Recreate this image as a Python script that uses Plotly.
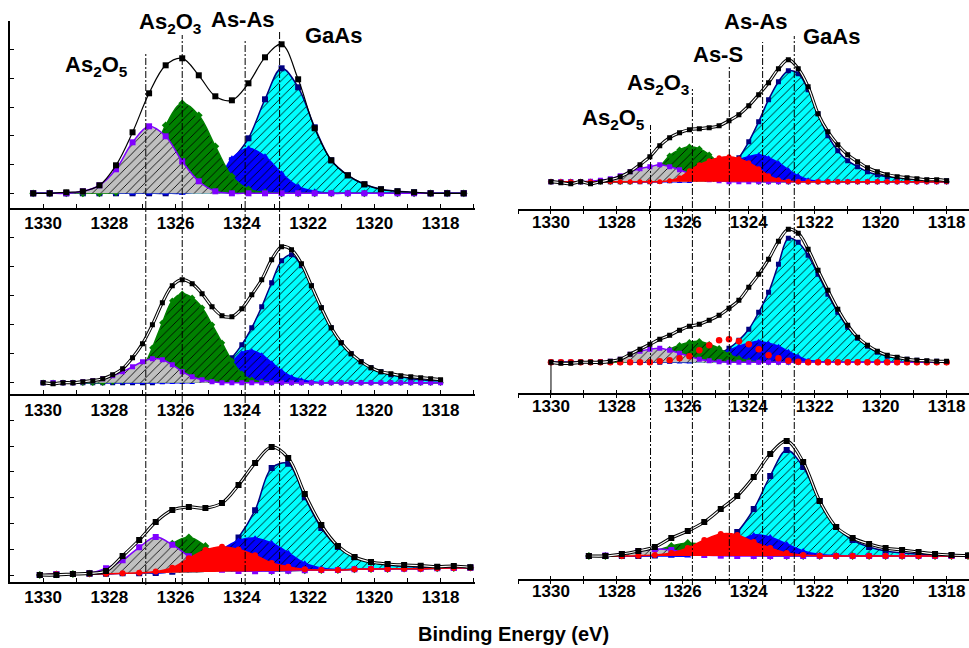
import numpy as np
import plotly.graph_objects as go

W, H = 969, 648
FONT = "Liberation Sans, Arial, Helvetica, sans-serif"

# ---------------- energy grids (binding energy, eV) ----------------
tl_energy = np.round(1330.3 - 0.5 * np.arange(27), 2)
ml_energy = np.round(1330.0 - 0.3 * np.arange(41), 2)
bl_energy = np.round(1330.1 - 0.5 * np.arange(27), 2)
tr_energy = np.round(1330.0 - 0.3 * np.arange(41), 2)
mr_energy = np.round(1330.0 - 0.3 * np.arange(41), 2)
br_energy = np.round(1328.85 - 0.5 * np.arange(24), 2)

# ---------------- intensities (a.u.) ----------------
# top-left
tl_env = [0, 0, 1, 2, 8, 28, 61, 100, 128, 135, 118, 97, 93, 110, 136, 149, 114, 65, 33, 18, 9, 4, 2, 1, 0, 0, 0]
tl_as2o5 = [0, 0, 0, 2, 8, 24, 51, 67, 57, 32, 12, 2] + [0] * 15
tl_as2o3 = [0, 0, 0, 0, 0, 1, 8, 30, 68, 90, 78, 47, 17, 4, 1] + [0] * 12
tl_asas = [0] * 10 + [2, 8, 35, 45, 37, 20, 7, 2] + [0] * 9
tl_gaas = [0] * 9 + [2, 4, 12, 33, 55, 94, 125, 106, 66, 33, 18, 9, 4, 2, 1, 0, 0, 0]

# middle-left
ml_env = [0, -1, 0, 0, 1, 2, 4, 8, 14, 25, 39, 58, 80, 97, 103, 99, 89, 76, 67, 66,
          74, 88, 103, 123, 136, 133, 119, 97, 75, 55, 40, 29, 21, 15, 11, 9, 7, 6, 5, 4, 3]
ml_as2o5 = [0, 0, 0, 0, 1, 2, 4, 7, 11, 16, 21, 24, 23, 18, 11, 6, 3, 1] + [0] * 23
ml_as2o3 = [0, 0, 0, 0, 0, 0, 0, 1, 2, 5, 14, 35, 60, 82, 89, 85, 75, 58, 40, 22, 9, 3, 1] + [0] * 18
ml_asas = [0] * 16 + [2, 4, 8, 20, 30, 32, 28, 20, 12, 6, 3, 1] + [0] * 13
ml_gaas = [0] * 12 + [1, 2, 3, 5, 7, 11, 16, 25, 38, 55, 76, 100, 122, 128, 117, 97, 75, 55, 40,
                      29, 21, 15, 11, 8, 6, 4, 3, 2, 2]

# bottom-left (sloping background)
bl_bg = [0, 0.7, 1, 1.3, 1.3, 1.7, 1.7, 2, 2.3, 2.7, 3, 3.3, 3.5, 3.8, 4, 4.3, 4.7, 5, 5, 5.7,
         6, 6, 6.3, 6.3, 6.7, 7, 7.3]
bl_env = [0, 0, 1, 1.7, 4, 19, 35, 53, 65, 68, 67, 72, 90, 112, 128, 117, 81, 50, 29, 18,
          13, 11, 10, 9.3, 8.3, 9, 7.7]
bl_as2o5 = [0, 0, 0, 0.5, 5.5, 13, 26, 36, 28, 16, 6, 2, 0.5] + [0] * 14
bl_as2o3 = [0, 0, 0, 0, 0.5, 2, 6, 15, 29, 35, 26, 12, 4, 1] + [0] * 13
bl_ass = [0, 0, 0, 0, 0, 0, 0.5, 1.5, 5, 14, 22, 25, 22, 16, 8, 4, 1] + [0] * 10
bl_asas = [0, 0, 0, 0, 0, 0, 0, 0, 1, 3, 8, 22, 31, 33, 28, 18, 7, 2, 0.5] + [0] * 8
bl_gaas = [0, 0, 0, 0, 0, 0, 0, 0, 1, 3, 7, 15, 34, 61, 103, 107, 73, 42, 23, 12, 7, 4, 2.5, 1.5, 1, 0.5, 0.3]

# top-right
tr_env = [0, -1, -2, 0, -2, 0, 2, 5, 10, 17, 25, 36, 44, 49, 52, 53, 54, 56, 61, 67,
          76, 87, 99, 113, 122, 113, 95, 68, 50, 37, 27, 20, 14, 10, 7, 5, 4, 3, 2, 2, 1]
tr_as2o5 = [0, 0, 0, 0, 0.5, 1.5, 3, 6, 10, 13, 15, 17, 15, 12, 8, 4, 2, 1] + [0] * 23
tr_as2o3 = [0] * 9 + [2, 6, 15, 26, 32, 35, 33, 27, 18, 9, 4, 1] + [0] * 20
tr_ass = [0] * 12 + [1, 4, 11, 17, 21, 24, 25, 23, 19, 13, 6, 2, 0.5] + [0] * 16
tr_asas = [0] * 15 + [2, 5, 10, 18, 22, 25, 27, 24, 19, 12, 6, 2, 0.5] + [0] * 13
tr_gaas = [0] * 11 + [0.5, 1, 2, 3, 4, 6, 9, 14, 24, 40, 60, 82, 100, 111, 108, 92, 68, 46, 31, 21,
                      15, 10, 7, 5, 4, 3, 2, 1.5, 1, 1]

# middle-right
mr_env = [0, -1, -1, 0, 0, 0, 1, 3, 8, 13, 18, 23, 27, 32, 36, 38, 42, 47, 54, 62,
          75, 88, 103, 121, 133, 129, 113, 92, 72, 53, 37, 25, 17, 11, 7, 5, 3, 2, 1.5, 1, 1]
mr_as2o5 = [0, 0, 0, 0, 0, 0.5, 1, 3, 8, 11, 13, 14, 12, 9, 6, 3, 1.5, 0.5] + [0] * 23
mr_as2o3 = [0] * 8 + [1, 2, 4, 8, 13, 17, 20, 21, 18, 14, 8, 4, 1.5, 0.5] + [0] * 19
mr_ass = [0] * 11 + [1, 2, 4, 6, 12, 17, 22, 23, 21, 18, 13, 7, 4, 1.5, 0.5] + [0] * 15
mr_asas = [0] * 15 + [2, 5, 8, 12, 16, 19, 21, 19, 16, 11, 6, 2, 1] + [0] * 13
mr_gaas = [0] * 12 + [1, 2, 3, 4, 6, 9, 14, 22, 33, 50, 70, 98, 124, 120, 107, 88, 68, 50, 35, 24,
                      16, 10, 6, 4, 3, 2, 1, 1, 0.5]
mr_start_energy = [1330.0, 1330.0]
mr_start_counts = [-31, 0]

# bottom-right
br_env = [0, 0, 2, 5, 9, 18, 25, 34, 47, 60, 79, 102, 115, 94, 55, 29, 18, 12, 8, 6, 4, 2, 1, 0.5]
br_as2o5 = [0, 0.5, 2, 5, 7, 6, 3, 1, 0.3] + [0] * 15
br_as2o3 = [0, 0, 0.5, 2, 5, 10, 13, 11, 6, 2, 0.5] + [0] * 13
br_ass = [0, 0, 0, 0.3, 1, 3, 8, 16, 22, 21, 14, 8, 3, 1, 0.3] + [0] * 9
br_asas = [0, 0, 0, 0, 0, 0, 0, 4, 8, 14, 21, 19, 12, 5, 1.5, 0.5] + [0] * 8
br_gaas = [0, 0, 0, 0, 0.5, 1.5, 3, 6, 12, 24, 47, 80, 106, 89, 55, 29, 16, 9, 5, 3, 2, 1, 0.5, 0.3]

# peak positions & labels
left_peak_pos = [1326.9, 1325.8, 1323.9, 1322.86]
left_peak_names = ["As<sub>2</sub>O<sub>5</sub>", "As<sub>2</sub>O<sub>3</sub>", "As-As", "GaAs"]
right_peak_pos = [1326.98, 1325.71, 1324.59, 1323.58, 1322.62]
right_peak_names = ["As<sub>2</sub>O<sub>5</sub>", "As<sub>2</sub>O<sub>3</sub>", "As-S", "As-As", "GaAs"]
x_ticks = [1330, 1328, 1326, 1324, 1322, 1320, 1318]

# ---------------- styles ----------------
STY = {
    "GaAs": dict(fill="#00FFFF", line="#000080", sym="square", mc="#000080", hatch=True),
    "AsAs": dict(fill="#0000FF", line="#0000FF", sym="triangle-up", mc="#0000FF", hatch=True),
    "As2O3": dict(fill="#008000", line="#008000", sym="diamond", mc="#008000", hatch=True),
    "As2O5": dict(fill="#C0C0C0", line="#7F00FF", sym="square", mc="#7F00FF", hatch=True),
    "AsS": dict(fill="#FF0000", line="#FF0000", sym="circle", mc="#FF0000", hatch=False),
}

panels = [
    dict(ax="", E=tl_energy, env=tl_env, comps=[("GaAs", tl_gaas), ("AsAs", tl_asas), ("As2O3", tl_as2o3), ("As2O5", tl_as2o5)],
         bg=None, double=False, ms=6, top=21, bot=208, base=193.3, dt=28.7, left=True),
    dict(ax="2", E=ml_energy, env=ml_env, comps=[("GaAs", ml_gaas), ("AsAs", ml_asas), ("As2O3", ml_as2o3), ("As2O5", ml_as2o5)],
         bg=None, double=True, ms=5, top=208, bot=394.3, base=382.7, dt=29, left=True),
    dict(ax="3", E=bl_energy, env=bl_env, comps=[("GaAs", bl_gaas), ("AsAs", bl_asas), ("As2O3", bl_as2o3), ("As2O5", bl_as2o5), ("AsS", bl_ass)],
         bg=bl_bg, double=True, ms=6, top=394.3, bot=581.5, base=575, dt=25.8, left=True),
    dict(ax="4", E=tr_energy, env=tr_env, comps=[("GaAs", tr_gaas), ("AsAs", tr_asas), ("As2O3", tr_as2o3), ("As2O5", tr_as2o5), ("AsS", tr_ass)],
         bg=None, double=True, ms=5, top=21, bot=209.3, base=181.7, dt=None, left=False, twin="7"),
    dict(ax="5", E=mr_energy, env=mr_env, comps=[("GaAs", mr_gaas), ("AsAs", mr_asas), ("As2O3", mr_as2o3), ("As2O5", mr_as2o5), ("AsS", mr_ass)],
         bg=None, double=True, ms=5, top=209.3, bot=393.3, base=362.3, dt=None, left=False, red_markers_only=True, twin="8"),
    dict(ax="6", E=br_energy, env=br_env, comps=[("GaAs", br_gaas), ("AsAs", br_asas), ("As2O3", br_as2o3), ("As2O5", br_as2o5), ("AsS", br_ass)],
         bg=None, double=True, ms=6, top=393.3, bot=579, base=556, dt=None, left=False, twin="9"),
]

fig = go.Figure()

for p in panels:
    xa, ya = "x" + p["ax"], "y" + p["ax"]
    E = p["E"]
    for name, vals in p["comps"]:
        st = STY[name]
        rel = np.asarray(vals, float)
        markers_only = (name == "AsS" and p.get("red_markers_only", False))
        if p["bg"] is not None:
            bgv = np.asarray(p["bg"], float)
            fig.add_trace(go.Scatter(x=E, y=bgv, mode="lines", line=dict(width=0, shape="spline"),
                                     xaxis=xa, yaxis=ya, hoverinfo="skip", showlegend=False))
            y = bgv + rel
            ftype = "tonexty"
        else:
            y = rel
            ftype = "tozeroy"
        kw = {}
        if not markers_only:
            kw["fill"] = ftype
            kw["fillcolor"] = st["fill"]
            if st["hatch"]:
                kw["fillpattern"] = dict(shape="/", bgcolor=st["fill"], fgcolor="black", fgopacity=1,
                                         size=6, solidity=0.14, fillmode="replace")
        msize = p["ms"] + (1.5 if markers_only else 0)
        fig.add_trace(go.Scatter(
            x=E, y=y, mode="markers" if markers_only else "lines+markers",
            line=dict(color=st["line"], width=1.5, shape="spline"),
            marker=dict(symbol=st["sym"], size=msize, color=st["mc"], line=dict(width=0)),
            xaxis=xa, yaxis=ya, showlegend=False, **kw))
    env = np.asarray(p["env"], float)
    if p["double"]:
        fig.add_trace(go.Scatter(x=E, y=env, mode="lines", line=dict(color="black", width=3.2, shape="spline"),
                                 xaxis=xa, yaxis=ya, showlegend=False))
        fig.add_trace(go.Scatter(x=E, y=env, mode="lines", line=dict(color="white", width=1.2, shape="spline"),
                                 xaxis=xa, yaxis=ya, showlegend=False))
        fig.add_trace(go.Scatter(x=E, y=env, mode="markers", marker=dict(symbol="square", size=p["ms"], color="black"),
                                 xaxis=xa, yaxis=ya, showlegend=False))
    else:
        fig.add_trace(go.Scatter(x=E, y=env, mode="lines+markers", line=dict(color="black", width=1.2, shape="spline"),
                                 marker=dict(symbol="square", size=p["ms"], color="black"),
                                 xaxis=xa, yaxis=ya, showlegend=False))
    if p.get("twin"):
        # empty trace so the twin (inside-tick) axis is drawn
        fig.add_trace(go.Scatter(x=[], y=[], mode="markers", xaxis="x" + p["twin"], yaxis=ya,
                                 showlegend=False, hoverinfo="skip"))

# starting spike of raw data in middle-right panel
fig.add_trace(go.Scatter(x=mr_start_energy, y=mr_start_counts, mode="lines", line=dict(color="black", width=1),
                         xaxis="x5", yaxis="y5", showlegend=False, cliponaxis=False))

# ---------------- axes ----------------
tickfont = dict(family=FONT, size=17, color="black", weight="bold")
layout = dict(width=W, height=H, margin=dict(l=0, r=0, t=0, b=0), paper_bgcolor="white",
              plot_bgcolor="rgba(0,0,0,0)", showlegend=False)

for p in panels:
    k = p["ax"]
    xkey, ykey = "xaxis" + k, "yaxis" + k
    ydom = [1 - p["bot"] / H, 1 - p["top"] / H]
    yr = [-(p["bot"] - p["base"]), p["base"] - p["top"]]
    if p["left"]:
        xdom = [10 / W, 475 / W]
        xr = [1331.0, 1316.96]
        tk = dict(ticks="inside", ticklen=4, tickwidth=1.2, ticklabelstandoff=-1)
    else:
        xdom = [518 / W, 1.0]
        xr = [1331.0, 1317.32]
        tk = dict(ticks="outside", ticklen=3, tickwidth=1.2, ticklabelstandoff=-7)
    layout[xkey] = dict(domain=xdom, range=xr, anchor="y" + k, showline=True, linecolor="black", linewidth=2,
                        tickcolor="black", tickmode="array", tickvals=x_ticks, ticktext=[str(t) for t in x_ticks],
                        minor=dict(ticks=tk["ticks"], ticklen=tk["ticklen"], tickcolor="black", tickwidth=1.2,
                                   dtick=1, tick0=1330, showgrid=False),
                        showgrid=False, zeroline=False, tickfont=tickfont, fixedrange=True, **tk)
    if p.get("twin"):
        layout["xaxis" + p["twin"]] = dict(domain=xdom, range=xr, anchor="y" + k, overlaying="x" + k,
                                           side="bottom", showline=False, ticks="inside", ticklen=3,
                                           tickwidth=1.2, tickcolor="black", tickmode="array",
                                           tickvals=x_ticks, showticklabels=False,
                                           minor=dict(ticks="inside", ticklen=3, tickcolor="black",
                                                      tickwidth=1.2, dtick=1, tick0=1330, showgrid=False),
                                           showgrid=False, zeroline=False, fixedrange=True)
    if p["left"]:
        layout[ykey] = dict(domain=ydom, range=yr, anchor="x" + k, showline=True, linecolor="black", linewidth=1.5,
                            ticks="inside", ticklen=4, tickcolor="black", tickwidth=1.2, tick0=0, dtick=p["dt"],
                            showticklabels=False, showgrid=False, zeroline=False)
    else:
        layout[ykey] = dict(domain=ydom, range=yr, anchor="x" + k, visible=False, showgrid=False, zeroline=False)

fig.update_layout(**layout)

# ---------------- peak marker lines & labels ----------------
y_bottom = 1 - 585 / H
left_tops = [53, 35, 40, 32]
right_tops = [125, 89, 65, 42, 36]
for pos, t in zip(left_peak_pos, left_tops):
    fig.add_shape(type="line", xref="x", yref="paper", x0=pos, x1=pos, y0=y_bottom, y1=1 - t / H,
                  line=dict(color="black", width=1, dash="7px,2px,2px,2px"), layer="above")
for pos, t in zip(right_peak_pos, right_tops):
    fig.add_shape(type="line", xref="x4", yref="paper", x0=pos, x1=pos, y0=y_bottom, y1=1 - t / H,
                  line=dict(color="black", width=1, dash="7px,2px,2px,2px"), layer="above")

lab_font = dict(family=FONT, size=22, color="black", weight="bold")
left_lab_xy = [(96, 66), (170, 23), (243, 19), (333, 35)]
right_lab_xy = [(613, 119), (658, 84), (718, 54), (756, 21), (831, 36)]
for name, (lx, ly) in list(zip(left_peak_names, left_lab_xy)) + list(zip(right_peak_names, right_lab_xy)):
    fig.add_annotation(text=name, xref="paper", yref="paper", x=lx / W, y=1 - ly / H,
                       xanchor="center", yanchor="middle", showarrow=False, font=lab_font)

fig.add_annotation(text="Binding Energy (eV)", xref="paper", yref="paper", x=513 / W, y=1 - 634 / H,
                   xanchor="center", yanchor="middle", showarrow=False,
                   font=dict(family=FONT, size=20, color="black", weight="bold"))

fig.write_html("out.html")
